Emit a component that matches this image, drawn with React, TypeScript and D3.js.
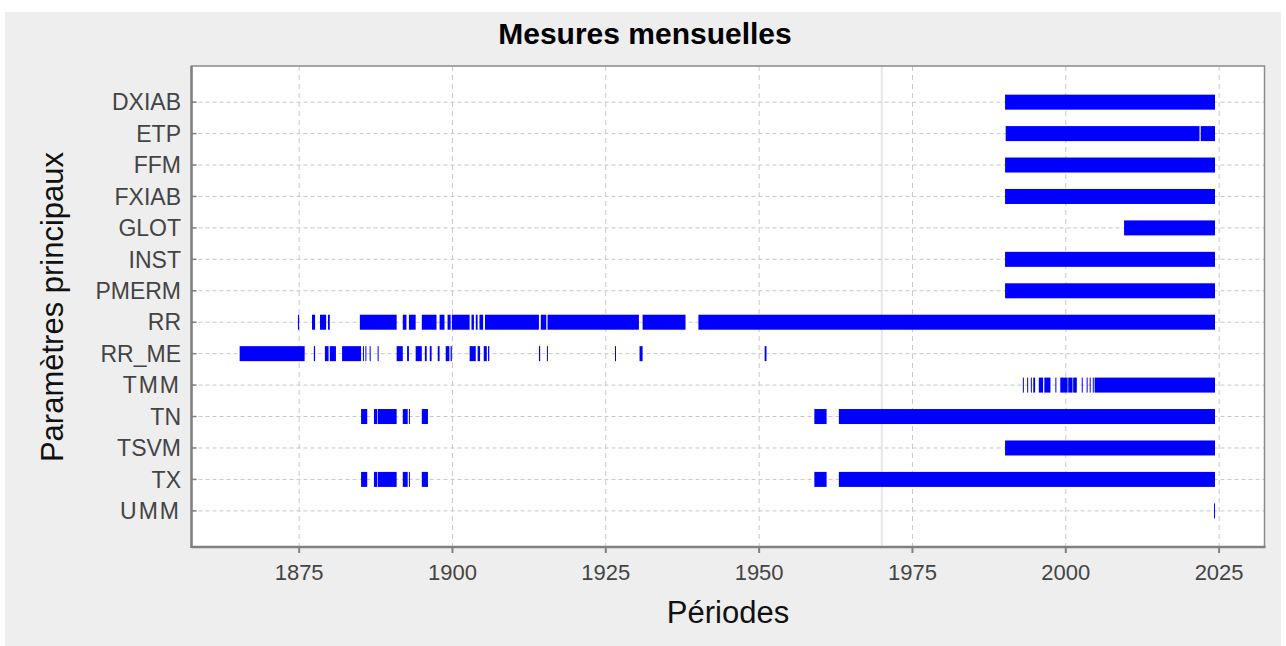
import React from "react";
import * as d3 from "d3";

const categories = ["DXIAB", "ETP", "FFM", "FXIAB", "GLOT", "INST", "PMERM", "RR", "RR_ME", "TMM", "TN", "TSVM", "TX", "UMM"];

const END = 2024.33;

const DXIAB: [number, number][] = [[1990.1, END]];
const ETP: [number, number][] = [[1990.2, 2021.8], [2022.0, END]];
const FFM: [number, number][] = [[1990.1, END]];
const FXIAB: [number, number][] = [[1990.1, END]];
const GLOT: [number, number][] = [[2009.5, END]];
const INST: [number, number][] = [[1990.1, END]];
const PMERM: [number, number][] = [[1990.1, END]];
const RR: [number, number][] = [
  [1874.8, 1875.0], [1877.1, 1877.6], [1878.4, 1879.4], [1879.7, 1880.0],
  [1884.9, 1890.9], [1891.9, 1892.5], [1892.9, 1894.0], [1895.0, 1897.4],
  [1897.9, 1898.7], [1899.2, 1899.7], [1899.9, 1902.8], [1903.1, 1903.5],
  [1903.8, 1904.1], [1904.4, 1905.0], [1905.3, 1914.1], [1914.4, 1915.3],
  [1915.5, 1930.4], [1931.0, 1938.0], [1940.1, END],
];
const RR_ME: [number, number][] = [
  [1865.3, 1875.9], [1877.4, 1877.6], [1879.2, 1879.8], [1880.0, 1881.0],
  [1882.0, 1885.1], [1885.4, 1885.55], [1885.8, 1885.95], [1886.5, 1886.65],
  [1887.8, 1887.95], [1890.9, 1891.9], [1892.6, 1892.9], [1894.0, 1895.0],
  [1895.5, 1895.8], [1896.3, 1896.6], [1897.6, 1897.9], [1898.9, 1899.5],
  [1899.7, 1899.9], [1902.8, 1903.8], [1904.1, 1904.5], [1905.1, 1905.6],
  [1905.8, 1906.0], [1914.1, 1914.3], [1915.4, 1915.55], [1926.5, 1926.65],
  [1930.5, 1931.0], [1950.9, 1951.2],
];
const TMM: [number, number][] = [
  [1993.0, 1993.15], [1993.7, 1993.85], [1994.3, 1994.45], [1994.7, 1995.0],
  [1995.6, 1996.3], [1996.5, 1997.5], [1998.3, 1998.45], [1999.1, 2000.3],
  [2000.4, 2001.1], [2001.2, 2001.8], [2002.6, 2002.75], [2003.4, 2003.55],
  [2003.9, 2004.05], [2004.4, 2004.55], [2004.7, END],
];
const TN: [number, number][] = [
  [1885.1, 1886.1], [1887.2, 1887.7], [1887.8, 1890.9], [1891.9, 1892.7],
  [1892.9, 1893.0], [1895.0, 1896.0], [1959.0, 1961.0], [1963.0, END],
];
const TSVM: [number, number][] = [[1990.1, END]];
const TX: [number, number][] = [
  [1885.1, 1886.1], [1887.2, 1887.7], [1887.8, 1890.9], [1891.9, 1892.7],
  [1892.9, 1893.0], [1895.0, 1896.0], [1959.0, 1961.0], [1963.0, END],
];
const UMM: [number, number][] = [[2024.17, 2024.33]];

const seriesList = [DXIAB, ETP, FFM, FXIAB, GLOT, INST, PMERM, RR, RR_ME, TMM, TN, TSVM, TX, UMM];

const xTicks = [1875, 1900, 1925, 1950, 1975, 2000, 2025];
const epochLine = 1970;

export default function App() {
  const W = 1286, H = 646;
  const left = 191.5, right = 1264.5, top = 66, bottom = 547;
  const x = d3.scaleLinear().domain([1857.45, 2032.4]).range([left, right]);
  const y = d3.scalePoint<string>().domain(categories).range([top, bottom]).padding(1.15);
  const barH = 15;
  const font = "Liberation Sans, Arial, sans-serif";
  return (
    <svg width={W} height={H} style={{ position: "absolute", left: 0, top: 0 }} fontFamily={font}>
      <rect x={5} y={12} width={1276} height={634} fill="#eeeeee" />
      <rect x={left} y={top} width={right - left} height={bottom - top} fill="#ffffff" />
      <line x1={x(epochLine)} x2={x(epochLine)} y1={top} y2={bottom} stroke="#e6e6e6" strokeWidth={2} />
      {xTicks.map((t) => (
        <line key={"gx" + t} x1={x(t)} x2={x(t)} y1={top} y2={bottom} stroke="#c8c8c8" strokeWidth={1} strokeDasharray="5,4" />
      ))}
      {categories.map((c) => (
        <line key={"gy" + c} x1={left} x2={right} y1={y(c)!} y2={y(c)!} stroke="#c8c8c8" strokeWidth={1} strokeDasharray="4,3" />
      ))}
      {seriesList.map((segs, i) => (
        <g key={"s" + i}>
          {segs.map(([a, b], j) => (
            <rect key={j} x={x(a)} y={y(categories[i])! - barH / 2} width={Math.max(1, x(b) - x(a))} height={barH} fill="#0000ff" />
          ))}
        </g>
      ))}
      <rect x={left} y={top} width={right - left} height={bottom - top} fill="none" stroke="#8a8a8a" strokeWidth={1.5} />
      <line x1={left} x2={left} y1={top} y2={bottom + 1} stroke="#808080" strokeWidth={2.5} />
      <line x1={left} x2={right + 1} y1={bottom} y2={bottom} stroke="#808080" strokeWidth={2.5} />
      {categories.map((c) => (
        <line key={"ty" + c} x1={left} x2={left + 5} y1={y(c)!} y2={y(c)!} stroke="#808080" strokeWidth={1.5} />
      ))}
      {xTicks.map((t) => (
        <g key={"tx" + t}>
          <line x1={x(t)} x2={x(t)} y1={bottom} y2={bottom + 6} stroke="#808080" strokeWidth={2} />
          <text x={x(t)} y={bottom + 33} textAnchor="middle" fontSize={22} fill="#444444">{t}</text>
        </g>
      ))}
      {categories.map((c) => (
        <text key={"ly" + c} x={181} y={y(c)!} dy="0.36em" textAnchor="end" fontSize={23} fill="#444444"
          letterSpacing={c === "TMM" || c === "UMM" ? 2 : 0}>{c}</text>
      ))}
      <text x={645} y={44} textAnchor="middle" fontSize={30} fontWeight="bold" fill="#000000">Mesures mensuelles</text>
      <text x={(left + right) / 2} y={623} textAnchor="middle" fontSize={31} fill="#111111">Périodes</text>
      <text transform={`translate(63, 307) rotate(-90)`} textAnchor="middle" fontSize={31} fill="#111111">Paramètres principaux</text>
    </svg>
  );
}
